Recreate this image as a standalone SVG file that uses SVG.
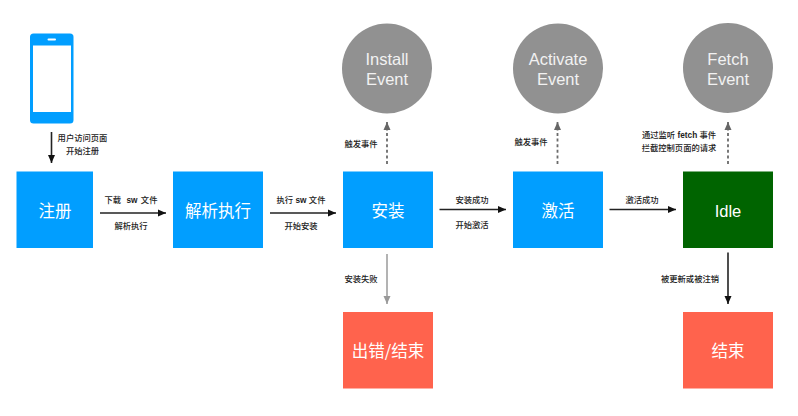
<svg xmlns="http://www.w3.org/2000/svg" width="798" height="416" viewBox="0 0 798 416">
<style>
.cjk{font-family:"Noto Sans CJK SC","Liberation Sans",sans-serif}
.lat{font-family:"Liberation Sans",Arial,sans-serif}
.lbl{font-family:"Liberation Sans","Noto Sans CJK SC",sans-serif;font-size:8.3px;fill:#222;text-anchor:middle;font-weight:500}
.b{font-weight:700}
.t{fill:#fff;text-anchor:middle;font-size:16.5px}
.e{fill:#f2f2f2;text-anchor:middle;font-size:16.500px;font-family:"Liberation Sans",Arial,sans-serif}
.blue{fill:#019eff}.red{fill:#ff634d}.grey{fill:#919191}
.ln{fill:none;stroke:#222;stroke-width:1.6}
.d{fill:none;stroke:#6b6b6b;stroke-width:1.8;stroke-dasharray:3 2.6}
</style>
<defs>
<marker id="a" markerUnits="userSpaceOnUse" markerWidth="9" markerHeight="8" refX="8" refY="4" orient="auto"><path d="M0 0.500L8 4L0 7.500Z" fill="#111"/></marker>
<marker id="g" markerUnits="userSpaceOnUse" markerWidth="9" markerHeight="8" refX="8" refY="4" orient="auto"><path d="M0 0.500L8 4L0 7.500Z" fill="#999"/></marker>
<marker id="m" markerUnits="userSpaceOnUse" markerWidth="9" markerHeight="8" refX="8" refY="4" orient="auto"><path d="M0 0.500L8 4L0 7.500Z" fill="#666"/></marker>
</defs>
<rect width="798" height="416" fill="#fff"/>
<g id="connectors">
<path class="ln" d="M51.500 132V163" marker-end="url(#a)"/>
<path class="ln" d="M100 213H166" marker-end="url(#a)"/>
<path class="ln" d="M270 213H336" marker-end="url(#a)"/>
<path class="ln" d="M439.500 209.500H506" marker-end="url(#a)"/>
<path class="ln" d="M609.500 209.500H676" marker-end="url(#a)"/>
<path class="d" d="M387 164V122" marker-end="url(#m)"/>
<path class="d" d="M557.500 164V122" marker-end="url(#m)"/>
<path class="d" d="M728 164V122" marker-end="url(#m)"/>
<path d="M387 254V304" fill="none" stroke="#a0a0a0" stroke-width="1.6" marker-end="url(#g)"/>
<path class="ln" d="M728 252.500V304" marker-end="url(#a)" stroke="#111"/>
</g>
<g id="phone">
<rect x="30" y="33.500" width="43.500" height="90" rx="3.500" class="blue"/>
<rect x="33" y="45.500" width="38" height="66.500" fill="#fff"/>
<rect x="47.500" y="38.500" width="8.500" height="2" rx="1" fill="#fff"/>
</g>
<g id="register"><rect x="16.500" y="171.500" width="76.500" height="76.500" class="blue"/><text x="55" y="217" class="t cjk">注册</text></g>
<g id="parse"><rect x="173" y="171.500" width="90" height="76.500" class="blue"/><text x="218" y="217" class="t cjk">解析执行</text></g>
<g id="install"><rect x="343" y="171.500" width="90" height="76.500" class="blue"/><text x="388" y="217" class="t cjk">安装</text></g>
<g id="activate"><rect x="513" y="171.500" width="90" height="76.500" class="blue"/><text x="558" y="217" class="t cjk">激活</text></g>
<g id="idle"><rect x="683" y="171.500" width="90" height="76.500" fill="#006400"/><text x="728" y="217" class="t lat">Idle</text></g>
<g id="fail"><rect x="343" y="312" width="90" height="76.500" class="red"/><text x="388" y="357" class="t cjk">出错/结束</text></g>
<g id="end"><rect x="683" y="312" width="90" height="76.500" class="red"/><text x="728" y="357" class="t cjk">结束</text></g>
<g id="install-event"><circle cx="387" cy="68.500" r="45" class="grey"/><text x="387" y="65" class="e">Install</text><text x="387" y="85" class="e">Event</text></g>
<g id="activate-event"><circle cx="558" cy="68.500" r="45" class="grey"/><text x="558" y="65" class="e">Activate</text><text x="558" y="85" class="e">Event</text></g>
<g id="fetch-event"><circle cx="728" cy="68" r="45" class="grey"/><text x="728" y="64.500" class="e">Fetch</text><text x="728" y="84.500" class="e">Event</text></g>
<g id="labels">
<text x="82.500" y="141" class="lbl">用户访问页面</text>
<text x="82.500" y="153.500" class="lbl">开始注册</text>
<text x="131" y="203" class="lbl">下载 <tspan dx="3" class="b">sw</tspan> <tspan dx="1">文件</tspan></text>
<text x="131" y="228.500" class="lbl">解析执行</text>
<text x="301" y="203" class="lbl">执行 <tspan class="b">sw</tspan> 文件</text>
<text x="301" y="229" class="lbl">开始安装</text>
<text x="361" y="147" class="lbl">触发事件</text>
<text x="472" y="203" class="lbl">安装成功</text>
<text x="472" y="228" class="lbl">开始激活</text>
<text x="531" y="145" class="lbl">触发事件</text>
<text x="642" y="203" class="lbl">激活成功</text>
<text x="679" y="138" class="lbl">通过监听 <tspan class="b">fetch</tspan> 事件</text>
<text x="679" y="151" class="lbl">拦截控制页面的请求</text>
<text x="361" y="282" class="lbl">安装失败</text>
<text x="690" y="282" class="lbl">被更新或被注销</text>
</g>
</svg>
